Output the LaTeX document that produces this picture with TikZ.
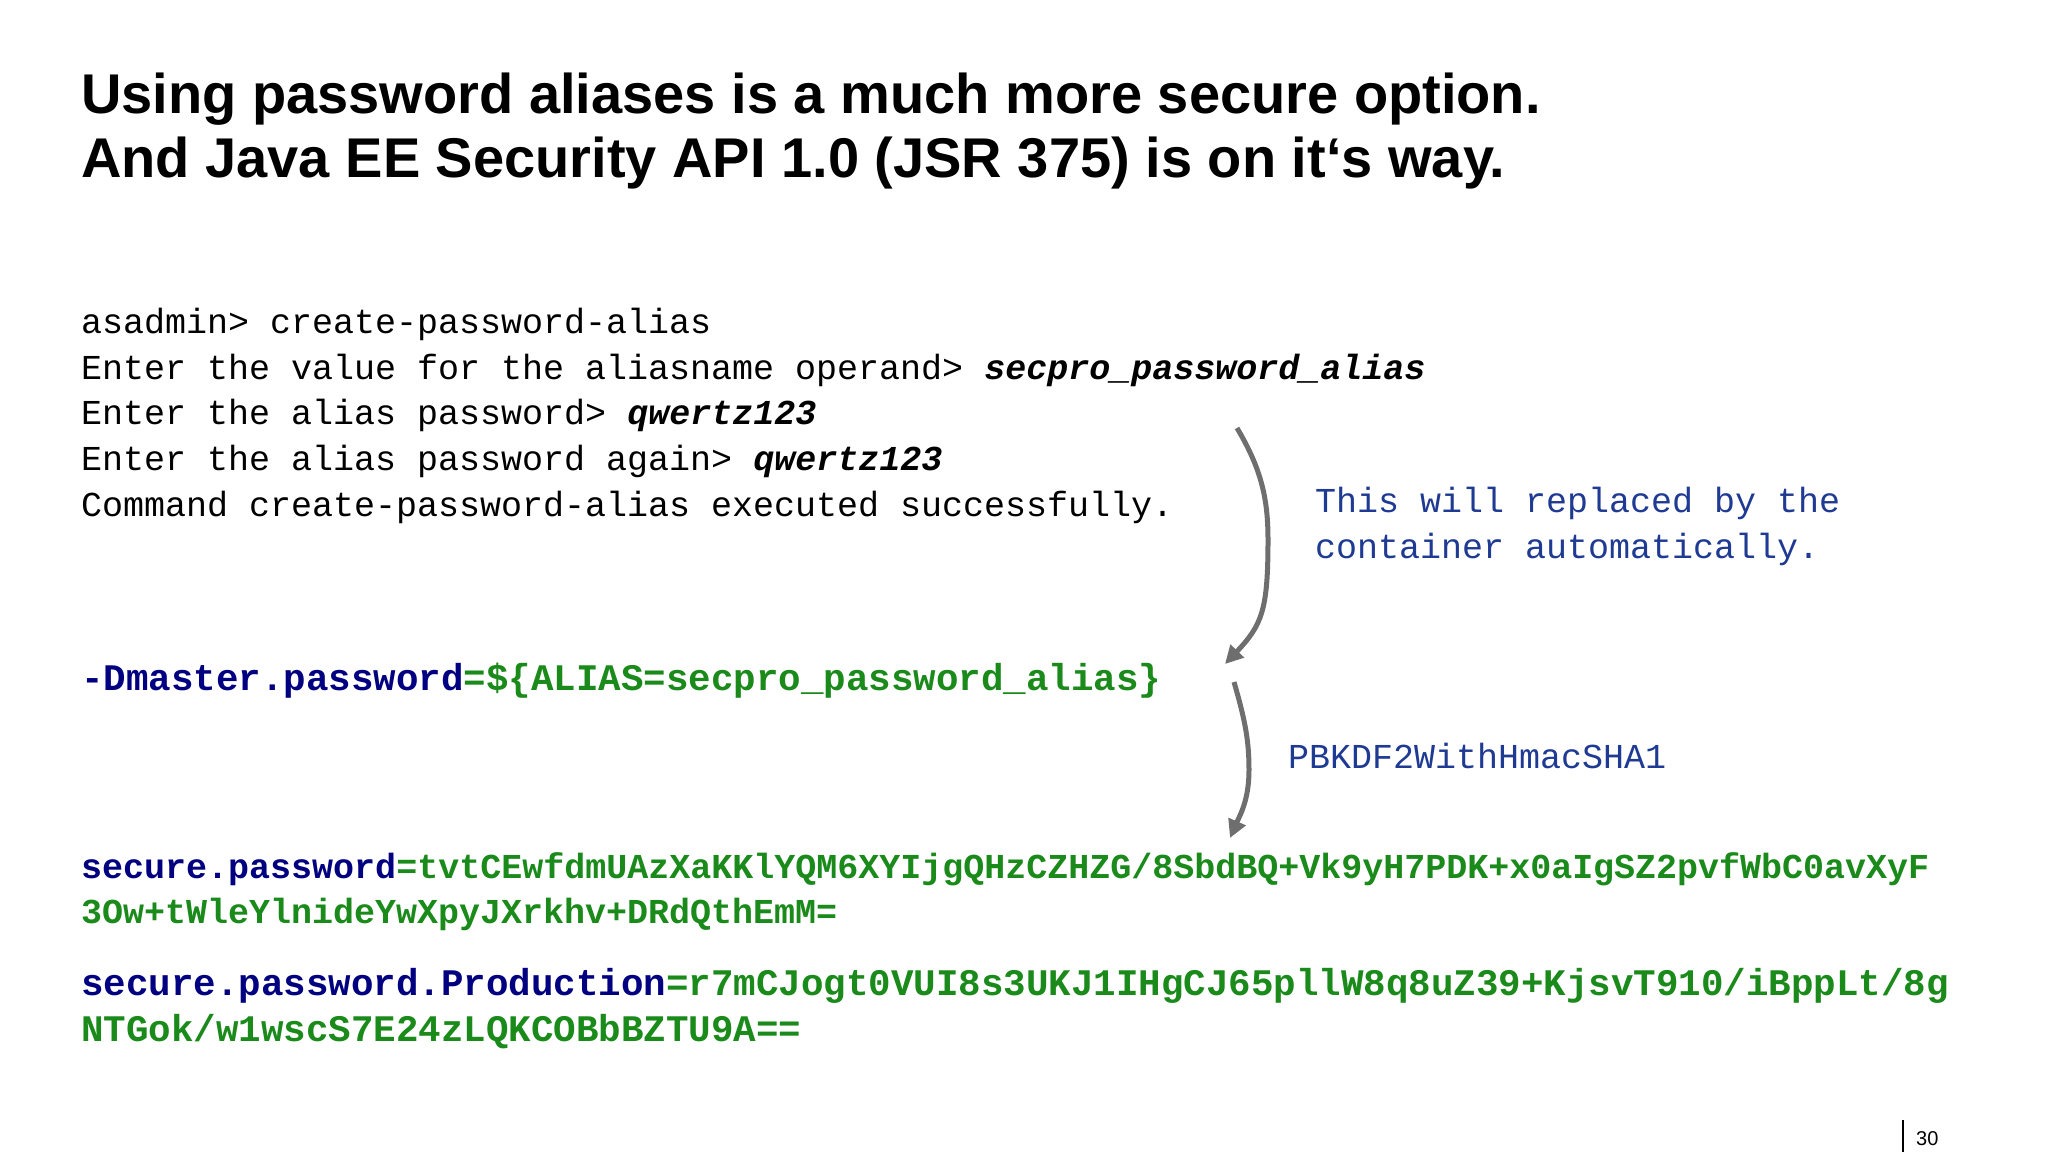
\documentclass[tikz,border=0pt]{standalone}
\usepackage{fontspec}
\setmainfont{Liberation Sans}
\setmonofont{Liberation Mono}
\usetikzlibrary{arrows.meta}
\definecolor{navy}{HTML}{000080}
\definecolor{codegreen}{HTML}{1A8A1A}
\definecolor{notec}{HTML}{1F3A93}
\definecolor{arrowc}{HTML}{6E6E6E}
\tikzset{
 title/.style={anchor=base west,inner sep=0,font=\fontsize{56}{64}\selectfont\bfseries},
 code/.style={anchor=base west,inner sep=0,font=\fontsize{35}{40}\selectfont\ttfamily},
 bigcode/.style={anchor=base west,inner sep=0,font=\fontsize{37.5}{42}\selectfont\ttfamily},
 note/.style={code,text=notec},
 curvearrow/.style={draw=arrowc,line width=5pt,-{Triangle[length=18pt,width=18pt]}}
}
\begin{document}
\begin{tikzpicture}[x=1pt,y=1pt]
\useasboundingbox[fill=white] (0,0) rectangle (2048,-1152);
\node[title] (t1) at (81,-113) {Using password aliases is a much more secure option.};
\node[title] (t2) at (81,-177) {And Java EE Security API 1.0 (JSR 375) is on it‘s way.};
\node[code] (c1) at (81,-333) {asadmin> create-password-alias};
\node[code] (c2) at (81,-379) {Enter the value for the aliasname operand> \textbf{\itshape secpro\_password\_alias}};
\node[code] (c3) at (81,-424) {Enter the alias password> \textbf{\itshape qwertz123}};
\node[code] (c4) at (81,-470) {Enter the alias password again> \textbf{\itshape qwertz123}};
\node[code] (c5) at (81,-516) {Command create-password-alias executed successfully.};
\node[note] (n1) at (1315,-512) {This will replaced by the};
\node[note] (n2) at (1315,-558) {container automatically.};
\node[bigcode] (dm) at (81,-690) {\bfseries\textcolor{navy}{-Dmaster.password}\textcolor{codegreen}{=\$\{ALIAS=secpro\_password\_alias\}}};
\node[note] (pb) at (1288,-768) {PBKDF2WithHmacSHA1};
\node[code] (s1) at (81,-878) {\bfseries\textcolor{navy}{secure.password}\textcolor{codegreen}{=tvtCEwfdmUAzXaKKlYQM6XYIjgQHzCZHZG/8SbdBQ+Vk9yH7PDK+x0aIgSZ2pvfWbC0avXyF}};
\node[code,text=codegreen] (s2) at (81,-923) {\bfseries 3Ow+tWleYlnideYwXpyJXrkhv+DRdQthEmM=};
\node[bigcode] (p1) at (81,-995) {\bfseries\textcolor{navy}{secure.password.Production}\textcolor{codegreen}{=r7mCJogt0VUI8s3UKJ1IHgCJ65pllW8q8uZ39+KjsvT910/iBppLt/8g}};
\node[bigcode,text=codegreen] (p2) at (81,-1041) {\bfseries NTGok/w1wscS7E24zLQKCOBbBZTU9A==};
\coordinate (a1s) at (1237,-428);
\coordinate (a1e) at (1225,-664);
\coordinate (a2s) at (1234,-682);
\coordinate (a2e) at (1230,-838);
\draw[curvearrow] (a1s) .. controls (1262,-470) and (1268,-500) .. (1268,-540) .. controls (1268,-610) and (1262,-625) .. (a1e);
\draw[curvearrow] (a2s) .. controls (1245,-720) and (1249,-740) .. (1249,-770) .. controls (1249,-800) and (1240,-815) .. (a2e);
\draw[line width=1.5pt] (1903,-1120) -- (1903,-1152);
\node[anchor=base west,inner sep=0,font=\fontsize{20}{24}\selectfont] (pg) at (1916,-1145) {30};
\end{tikzpicture}
\end{document}
